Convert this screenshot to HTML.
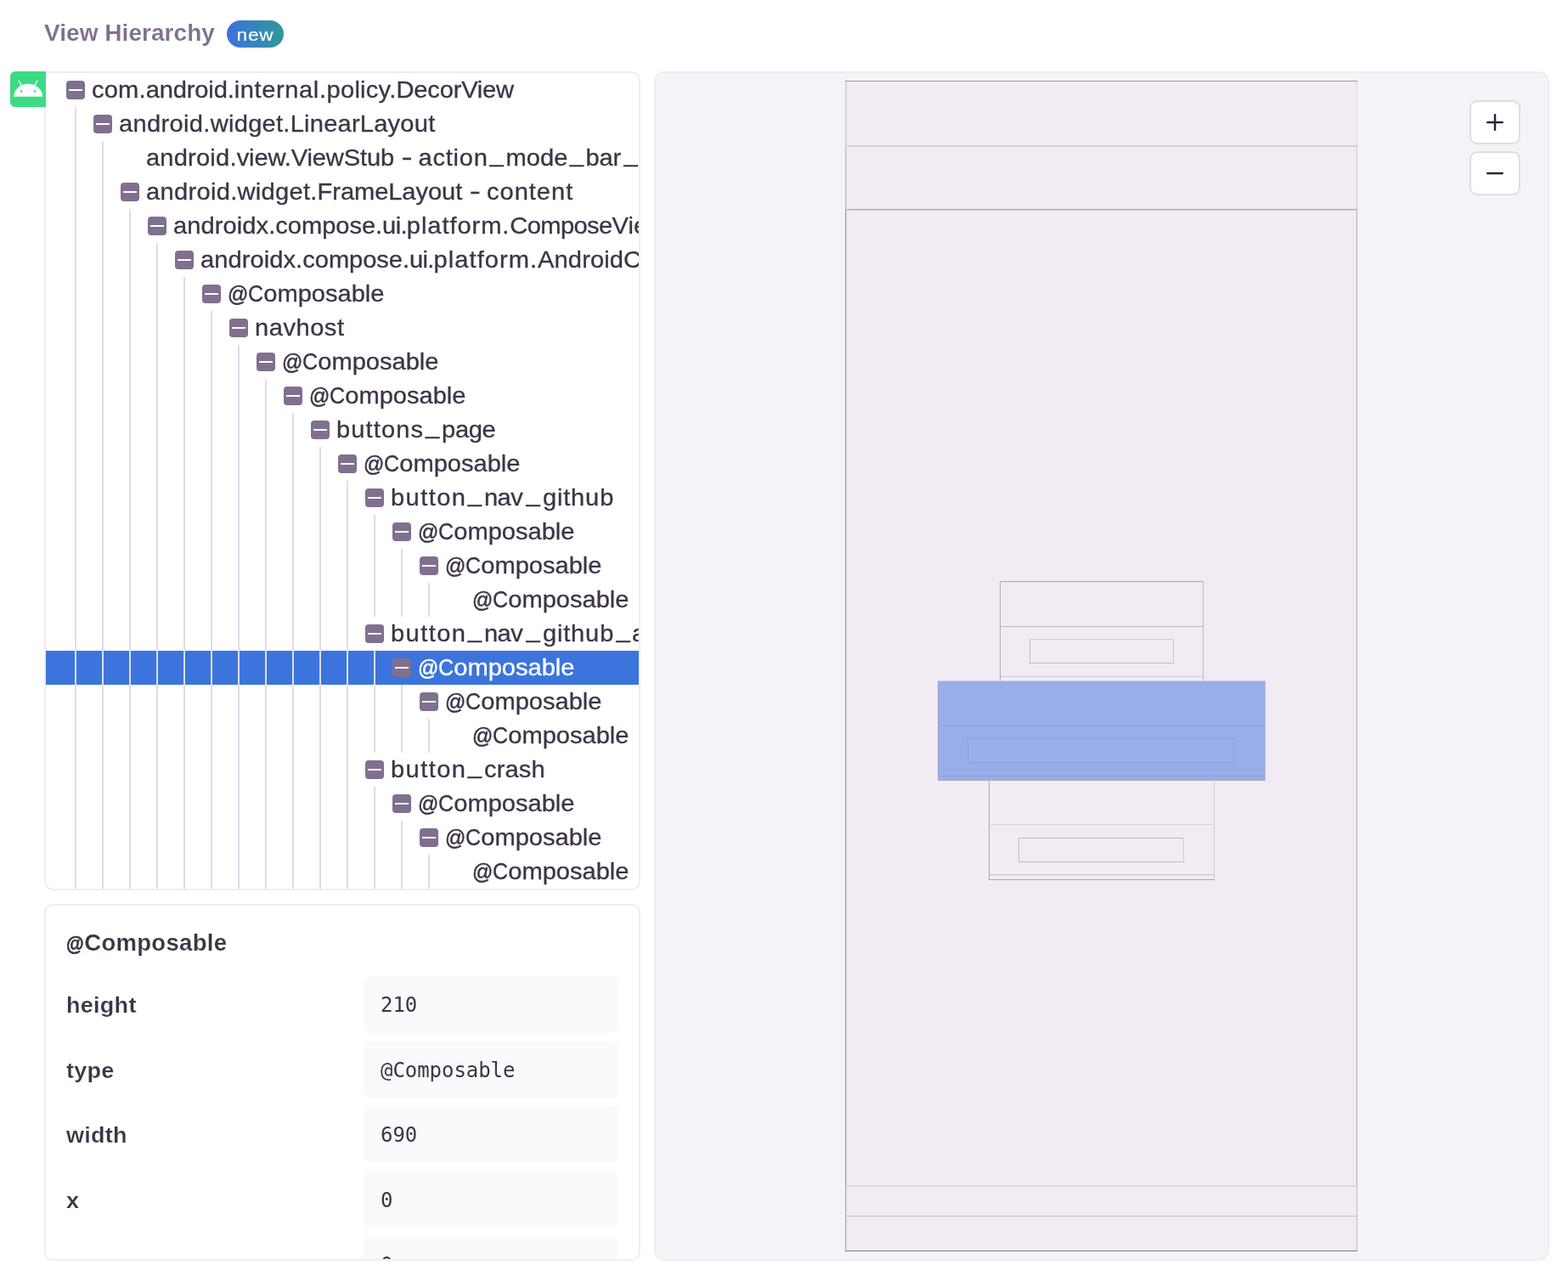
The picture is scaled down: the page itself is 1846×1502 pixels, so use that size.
<!DOCTYPE html>
<html lang="en">
<head>
<meta charset="utf-8">
<title>View Hierarchy</title>
<style>
*{box-sizing:border-box;margin:0;padding:0}
html,body{width:1846px;height:1502px;background:#fff;overflow:hidden}
body{position:relative;font-family:"Liberation Sans",sans-serif;color:#3e3446}
.title{will-change:transform;position:absolute;left:52px;top:21px;height:36px;line-height:36px;font-size:28px;font-weight:700;color:#80708f;white-space:nowrap;-webkit-text-stroke:0.12px #fff;letter-spacing:0.05px}
.badge{position:absolute;left:267px;top:24px;width:67px;height:32px;border-radius:16px;background:linear-gradient(90deg,#3f71de,#2d9996);color:#fff;font-size:21px;line-height:32px;text-align:center}
.badge span{will-change:transform;display:block;position:relative;top:1px;left:0px;transform:scaleX(1.08);letter-spacing:0.7px;-webkit-text-stroke:0.15px #fff}
.android{z-index:2;position:absolute;left:12px;top:84px;width:42px;height:42px;background:#3ddc84;border-radius:6px 0 0 6px;overflow:hidden}
.android svg{position:absolute;left:0;top:0}
.tree{position:absolute;left:52px;top:84px;width:702px;height:964px;border:2px solid #f0ecf3;border-radius:0 10px 10px 10px;overflow:hidden;background:#fff}
.row{position:absolute;left:0;width:698px;height:40px;overflow:hidden}
.row.sel{background:#3c74dd;color:#fff}
.g{position:absolute;top:0;width:2px;height:40px;background:#e0dce5}
.ic{position:absolute;top:9px;width:22px;height:22px;border-radius:4px;background:#80708f}
.ic:after{content:"";position:absolute;left:3px;top:10px;width:16px;height:2px;background:#fff}
.at{font-size:25px;-webkit-text-stroke:0.55px currentColor;display:inline-block;transform:scaleX(0.92);transform-origin:0 50%}
.hy{display:inline-block;transform:translateY(-1.4px) scaleX(1.35);transform-origin:0 50%}
.cc{display:inline-block;transform:scaleX(0.86);transform-origin:0 50%}
.u{position:relative;top:-5px}
.t{will-change:transform;transform:scaleX(1.04);transform-origin:0 50%;-webkit-text-stroke:0.3px currentColor;position:absolute;top:0;height:40px;line-height:40px;font-size:28px;white-space:nowrap}
.details{position:absolute;left:52px;top:1064px;width:702px;height:420px;border:2px solid #f0ecf3;border-radius:10px;overflow:hidden;background:#fff}
.details h4{will-change:transform;position:absolute;left:24px;top:26px;line-height:36px;font-size:27.5px;font-weight:700;white-space:nowrap;-webkit-text-stroke:0.15px #fff;letter-spacing:0.3px}
.details h4 .at{font-size:23px;letter-spacing:-1.2px;-webkit-text-stroke:0.7px #3e3446}
.k{will-change:transform;transform:scaleX(1.06);transform-origin:0 50%;position:absolute;left:24px;height:66px;line-height:66px;font-size:25.5px;font-weight:700;white-space:nowrap;-webkit-text-stroke:0.2px #fff;letter-spacing:0.25px;margin-top:1px}
.v span{will-change:transform;display:block;position:relative;top:1px}
.v{position:absolute;left:374px;width:300px;height:66px;line-height:66px;border-radius:8px;background:#faf9fb;font-family:"DejaVu Sans Mono","Liberation Mono",monospace;font-size:24px;letter-spacing:-0.05px;padding-left:20px;color:#3e3446;white-space:nowrap}
.canvas{position:absolute;left:770px;top:84px;width:1054px;height:1400px;border:2px solid #f0ecf3;border-radius:12px;background:#f5f3f7;overflow:hidden}
.canvas svg{position:absolute;left:-2px;top:-2px}
.zb{position:absolute;left:958px;width:60px;height:52px;border:2px solid #e0dce5;border-radius:9px;background:#fff}
.zb svg{position:absolute;left:-2px;top:-2px}
</style>
</head>
<body>
<h3 class="title">View Hierarchy</h3>
<span class="badge"><span>new</span></span>
<div class="android"><svg width="42" height="42" viewBox="0 0 42 42"><path d="M4.1 29.8A17 15 0 0 1 38.1 29.8Z" fill="#fff"/><path d="M12.9 16.2L10.1 11M29.1 16.2L31.9 11" stroke="#fff" stroke-width="1.3" stroke-linecap="round" fill="none"/><circle cx="13.2" cy="23.6" r="1.35" fill="#3ddc84"/><circle cx="29" cy="23.6" r="1.35" fill="#3ddc84"/></svg></div>
<div class="tree">
<div class="row" style="top:0px" title="com.android.internal.policy.DecorView"><b class="ic" style="left:24px"></b><span class="t" style="left:54px"><span style="letter-spacing:0.13px">com.</span><span style="letter-spacing:-0.15px">android.</span><span style="letter-spacing:0.57px">internal.</span><span style="letter-spacing:0.21px">policy.</span><span style="letter-spacing:-0.2px">DecorView</span></span></div>
<div class="row" style="top:40px" title="android.widget.LinearLayout"><i class="g" style="left:34px"></i><b class="ic" style="left:56px"></b><span class="t" style="left:85.51px"><span style="letter-spacing:0.3px">android.</span><span style="letter-spacing:0.23px">widget.</span><span style="letter-spacing:0.19px">LinearLayout</span></span></div>
<div class="row" style="top:80px" title="android.view.ViewStub - action_mode_bar_stub"><i class="g" style="left:34px"></i><i class="g" style="left:66px"></i><span class="t" style="left:117.72px"><span style="letter-spacing:0.17px">android.</span><span style="letter-spacing:-0.14px">view.</span><span style="letter-spacing:-0.13px">ViewStub </span><span class="hy" style="letter-spacing:1.76px">-</span><span style="letter-spacing:0.73px"> action</span><span class="u" style="letter-spacing:2.67px;margin-left:1.72px">_</span><span style="letter-spacing:0.07px">mode</span><span class="u" style="letter-spacing:2.54px;margin-left:1.99px">_</span><span style="letter-spacing:-0.18px">bar</span><span class="u" style="letter-spacing:2.68px;margin-left:3.4px">_</span>stub</span></div>
<div class="row" style="top:120px" title="android.widget.FrameLayout - content"><i class="g" style="left:34px"></i><i class="g" style="left:66px"></i><b class="ic" style="left:88px"></b><span class="t" style="left:117.58px"><span style="letter-spacing:0.28px">android.</span><span style="letter-spacing:0.24px">widget.</span><span style="letter-spacing:-0.09px">FrameLayout </span><span class="hy" style="letter-spacing:1.99px">-</span><span style="letter-spacing:0.92px"> content</span></span></div>
<div class="row" style="top:160px" title="androidx.compose.ui.platform.ComposeView"><i class="g" style="left:34px"></i><i class="g" style="left:66px"></i><i class="g" style="left:98px"></i><b class="ic" style="left:120px"></b><span class="t" style="left:150.07px"><span style="letter-spacing:0.06px">androidx.</span><span style="letter-spacing:-0.06px">compose.</span><span style="letter-spacing:-0.66px">ui.</span><span style="letter-spacing:0.88px">platform.</span><span style="letter-spacing:-0.61px">Compose</span>View</span></div>
<div class="row" style="top:200px" title="androidx.compose.ui.platform.AndroidComposeView"><i class="g" style="left:34px"></i><i class="g" style="left:66px"></i><i class="g" style="left:98px"></i><i class="g" style="left:130px"></i><b class="ic" style="left:152px"></b><span class="t" style="left:181.79px"><span style="letter-spacing:0.05px">androidx.</span><span style="letter-spacing:-0.06px">compose.</span><span style="letter-spacing:-0.7px">ui.</span><span style="letter-spacing:0.98px">platform.</span><span style="letter-spacing:0.08px">Android</span>ComposeView</span></div>
<div class="row" style="top:240px" title="@Composable"><i class="g" style="left:34px"></i><i class="g" style="left:66px"></i><i class="g" style="left:98px"></i><i class="g" style="left:130px"></i><i class="g" style="left:162px"></i><b class="ic" style="left:184px"></b><span class="t" style="left:214.28px"><span class="at" style="letter-spacing:-2.29px">@</span><span class="cc" style="letter-spacing:-2.59px">C</span><span style="letter-spacing:-0.05px">omposable</span></span></div>
<div class="row" style="top:280px" title="navhost"><i class="g" style="left:34px"></i><i class="g" style="left:66px"></i><i class="g" style="left:98px"></i><i class="g" style="left:130px"></i><i class="g" style="left:162px"></i><i class="g" style="left:194px"></i><b class="ic" style="left:216px"></b><span class="t" style="left:246.24px"><span style="letter-spacing:0.48px">navhost</span></span></div>
<div class="row" style="top:320px" title="@Composable"><i class="g" style="left:34px"></i><i class="g" style="left:66px"></i><i class="g" style="left:98px"></i><i class="g" style="left:130px"></i><i class="g" style="left:162px"></i><i class="g" style="left:194px"></i><i class="g" style="left:226px"></i><b class="ic" style="left:248px"></b><span class="t" style="left:278.28px"><span class="at" style="letter-spacing:-2.29px">@</span><span class="cc" style="letter-spacing:-2.59px">C</span><span style="letter-spacing:-0.05px">omposable</span></span></div>
<div class="row" style="top:360px" title="@Composable"><i class="g" style="left:34px"></i><i class="g" style="left:66px"></i><i class="g" style="left:98px"></i><i class="g" style="left:130px"></i><i class="g" style="left:162px"></i><i class="g" style="left:194px"></i><i class="g" style="left:226px"></i><i class="g" style="left:258px"></i><b class="ic" style="left:280px"></b><span class="t" style="left:310.28px"><span class="at" style="letter-spacing:-2.29px">@</span><span class="cc" style="letter-spacing:-2.59px">C</span><span style="letter-spacing:-0.05px">omposable</span></span></div>
<div class="row" style="top:400px" title="buttons_page"><i class="g" style="left:34px"></i><i class="g" style="left:66px"></i><i class="g" style="left:98px"></i><i class="g" style="left:130px"></i><i class="g" style="left:162px"></i><i class="g" style="left:194px"></i><i class="g" style="left:226px"></i><i class="g" style="left:258px"></i><i class="g" style="left:290px"></i><b class="ic" style="left:312px"></b><span class="t" style="left:342.44px"><span style="letter-spacing:1.05px">buttons</span><span class="u" style="letter-spacing:2.79px;margin-left:1.75px">_</span><span style="letter-spacing:-0.37px">page</span></span></div>
<div class="row" style="top:440px" title="@Composable"><i class="g" style="left:34px"></i><i class="g" style="left:66px"></i><i class="g" style="left:98px"></i><i class="g" style="left:130px"></i><i class="g" style="left:162px"></i><i class="g" style="left:194px"></i><i class="g" style="left:226px"></i><i class="g" style="left:258px"></i><i class="g" style="left:290px"></i><i class="g" style="left:322px"></i><b class="ic" style="left:344px"></b><span class="t" style="left:374.28px"><span class="at" style="letter-spacing:-2.29px">@</span><span class="cc" style="letter-spacing:-2.59px">C</span><span style="letter-spacing:-0.05px">omposable</span></span></div>
<div class="row" style="top:480px" title="button_nav_github"><i class="g" style="left:34px"></i><i class="g" style="left:66px"></i><i class="g" style="left:98px"></i><i class="g" style="left:130px"></i><i class="g" style="left:162px"></i><i class="g" style="left:194px"></i><i class="g" style="left:226px"></i><i class="g" style="left:258px"></i><i class="g" style="left:290px"></i><i class="g" style="left:322px"></i><i class="g" style="left:354px"></i><b class="ic" style="left:376px"></b><span class="t" style="left:406.25px"><span style="letter-spacing:1.36px">button</span><span class="u" style="letter-spacing:2.95px;margin-left:1.19px">_</span><span style="letter-spacing:-0.52px">nav</span><span class="u" style="letter-spacing:3.01px;margin-left:4.13px">_</span><span style="letter-spacing:0.78px">github</span></span></div>
<div class="row" style="top:520px" title="@Composable"><i class="g" style="left:34px"></i><i class="g" style="left:66px"></i><i class="g" style="left:98px"></i><i class="g" style="left:130px"></i><i class="g" style="left:162px"></i><i class="g" style="left:194px"></i><i class="g" style="left:226px"></i><i class="g" style="left:258px"></i><i class="g" style="left:290px"></i><i class="g" style="left:322px"></i><i class="g" style="left:354px"></i><i class="g" style="left:386px"></i><b class="ic" style="left:408px"></b><span class="t" style="left:438.28px"><span class="at" style="letter-spacing:-2.29px">@</span><span class="cc" style="letter-spacing:-2.59px">C</span><span style="letter-spacing:-0.05px">omposable</span></span></div>
<div class="row" style="top:560px" title="@Composable"><i class="g" style="left:34px"></i><i class="g" style="left:66px"></i><i class="g" style="left:98px"></i><i class="g" style="left:130px"></i><i class="g" style="left:162px"></i><i class="g" style="left:194px"></i><i class="g" style="left:226px"></i><i class="g" style="left:258px"></i><i class="g" style="left:290px"></i><i class="g" style="left:322px"></i><i class="g" style="left:354px"></i><i class="g" style="left:386px"></i><i class="g" style="left:418px"></i><b class="ic" style="left:440px"></b><span class="t" style="left:470.28px"><span class="at" style="letter-spacing:-2.29px">@</span><span class="cc" style="letter-spacing:-2.59px">C</span><span style="letter-spacing:-0.05px">omposable</span></span></div>
<div class="row" style="top:600px" title="@Composable"><i class="g" style="left:34px"></i><i class="g" style="left:66px"></i><i class="g" style="left:98px"></i><i class="g" style="left:130px"></i><i class="g" style="left:162px"></i><i class="g" style="left:194px"></i><i class="g" style="left:226px"></i><i class="g" style="left:258px"></i><i class="g" style="left:290px"></i><i class="g" style="left:322px"></i><i class="g" style="left:354px"></i><i class="g" style="left:386px"></i><i class="g" style="left:418px"></i><i class="g" style="left:450px"></i><span class="t" style="left:502.28px"><span class="at" style="letter-spacing:-2.29px">@</span><span class="cc" style="letter-spacing:-2.59px">C</span><span style="letter-spacing:-0.05px">omposable</span></span></div>
<div class="row" style="top:640px" title="button_nav_github_activity"><i class="g" style="left:34px"></i><i class="g" style="left:66px"></i><i class="g" style="left:98px"></i><i class="g" style="left:130px"></i><i class="g" style="left:162px"></i><i class="g" style="left:194px"></i><i class="g" style="left:226px"></i><i class="g" style="left:258px"></i><i class="g" style="left:290px"></i><i class="g" style="left:322px"></i><i class="g" style="left:354px"></i><b class="ic" style="left:376px"></b><span class="t" style="left:406.25px"><span style="letter-spacing:1.36px">button</span><span class="u" style="letter-spacing:2.95px;margin-left:1.19px">_</span><span style="letter-spacing:-0.52px">nav</span><span class="u" style="letter-spacing:3.01px;margin-left:4.13px">_</span><span style="letter-spacing:0.78px">github</span><span class="u" style="letter-spacing:2.19px;margin-left:2.19px">_</span>activity</span></div>
<div class="row sel" style="top:680px" title="@Composable"><i class="g" style="left:34px"></i><i class="g" style="left:66px"></i><i class="g" style="left:98px"></i><i class="g" style="left:130px"></i><i class="g" style="left:162px"></i><i class="g" style="left:194px"></i><i class="g" style="left:226px"></i><i class="g" style="left:258px"></i><i class="g" style="left:290px"></i><i class="g" style="left:322px"></i><i class="g" style="left:354px"></i><i class="g" style="left:386px"></i><b class="ic" style="left:408px"></b><span class="t" style="left:438.28px"><span class="at" style="letter-spacing:-2.29px">@</span><span class="cc" style="letter-spacing:-2.59px">C</span><span style="letter-spacing:-0.05px">omposable</span></span></div>
<div class="row" style="top:720px" title="@Composable"><i class="g" style="left:34px"></i><i class="g" style="left:66px"></i><i class="g" style="left:98px"></i><i class="g" style="left:130px"></i><i class="g" style="left:162px"></i><i class="g" style="left:194px"></i><i class="g" style="left:226px"></i><i class="g" style="left:258px"></i><i class="g" style="left:290px"></i><i class="g" style="left:322px"></i><i class="g" style="left:354px"></i><i class="g" style="left:386px"></i><i class="g" style="left:418px"></i><b class="ic" style="left:440px"></b><span class="t" style="left:470.28px"><span class="at" style="letter-spacing:-2.29px">@</span><span class="cc" style="letter-spacing:-2.59px">C</span><span style="letter-spacing:-0.05px">omposable</span></span></div>
<div class="row" style="top:760px" title="@Composable"><i class="g" style="left:34px"></i><i class="g" style="left:66px"></i><i class="g" style="left:98px"></i><i class="g" style="left:130px"></i><i class="g" style="left:162px"></i><i class="g" style="left:194px"></i><i class="g" style="left:226px"></i><i class="g" style="left:258px"></i><i class="g" style="left:290px"></i><i class="g" style="left:322px"></i><i class="g" style="left:354px"></i><i class="g" style="left:386px"></i><i class="g" style="left:418px"></i><i class="g" style="left:450px"></i><span class="t" style="left:502.28px"><span class="at" style="letter-spacing:-2.29px">@</span><span class="cc" style="letter-spacing:-2.59px">C</span><span style="letter-spacing:-0.05px">omposable</span></span></div>
<div class="row" style="top:800px" title="button_crash"><i class="g" style="left:34px"></i><i class="g" style="left:66px"></i><i class="g" style="left:98px"></i><i class="g" style="left:130px"></i><i class="g" style="left:162px"></i><i class="g" style="left:194px"></i><i class="g" style="left:226px"></i><i class="g" style="left:258px"></i><i class="g" style="left:290px"></i><i class="g" style="left:322px"></i><i class="g" style="left:354px"></i><b class="ic" style="left:376px"></b><span class="t" style="left:406.18px"><span style="letter-spacing:1.36px">button</span><span class="u" style="letter-spacing:2.99px;margin-left:1.26px">_</span><span style="letter-spacing:0.09px">crash</span></span></div>
<div class="row" style="top:840px" title="@Composable"><i class="g" style="left:34px"></i><i class="g" style="left:66px"></i><i class="g" style="left:98px"></i><i class="g" style="left:130px"></i><i class="g" style="left:162px"></i><i class="g" style="left:194px"></i><i class="g" style="left:226px"></i><i class="g" style="left:258px"></i><i class="g" style="left:290px"></i><i class="g" style="left:322px"></i><i class="g" style="left:354px"></i><i class="g" style="left:386px"></i><b class="ic" style="left:408px"></b><span class="t" style="left:438.28px"><span class="at" style="letter-spacing:-2.29px">@</span><span class="cc" style="letter-spacing:-2.59px">C</span><span style="letter-spacing:-0.05px">omposable</span></span></div>
<div class="row" style="top:880px" title="@Composable"><i class="g" style="left:34px"></i><i class="g" style="left:66px"></i><i class="g" style="left:98px"></i><i class="g" style="left:130px"></i><i class="g" style="left:162px"></i><i class="g" style="left:194px"></i><i class="g" style="left:226px"></i><i class="g" style="left:258px"></i><i class="g" style="left:290px"></i><i class="g" style="left:322px"></i><i class="g" style="left:354px"></i><i class="g" style="left:386px"></i><i class="g" style="left:418px"></i><b class="ic" style="left:440px"></b><span class="t" style="left:470.28px"><span class="at" style="letter-spacing:-2.29px">@</span><span class="cc" style="letter-spacing:-2.59px">C</span><span style="letter-spacing:-0.05px">omposable</span></span></div>
<div class="row" style="top:920px" title="@Composable"><i class="g" style="left:34px"></i><i class="g" style="left:66px"></i><i class="g" style="left:98px"></i><i class="g" style="left:130px"></i><i class="g" style="left:162px"></i><i class="g" style="left:194px"></i><i class="g" style="left:226px"></i><i class="g" style="left:258px"></i><i class="g" style="left:290px"></i><i class="g" style="left:322px"></i><i class="g" style="left:354px"></i><i class="g" style="left:386px"></i><i class="g" style="left:418px"></i><i class="g" style="left:450px"></i><span class="t" style="left:502.28px"><span class="at" style="letter-spacing:-2.29px">@</span><span class="cc" style="letter-spacing:-2.59px">C</span><span style="letter-spacing:-0.05px">omposable</span></span></div>
</div>
<div class="details">
<h4><span class="at">@</span>Composable</h4>
<div class="k" style="top:83px">height</div><div class="v" style="top:83px;height:67px"><span>210</span></div>
<div class="k" style="top:160px">type</div><div class="v" style="top:160px"><span>@Composable</span></div>
<div class="k" style="top:236px">width</div><div class="v" style="top:236px;height:67px"><span>690</span></div>
<div class="k" style="top:313px">x</div><div class="v" style="top:313px"><span>0</span></div>
<div class="k" style="top:389px">y</div><div class="v" style="top:389px;height:67px"><span>0</span></div>
</div>
<div class="canvas">
<svg width="1054" height="1400" viewBox="770 84 1054 1400" shape-rendering="crispEdges">
<rect x="996" y="96" width="601" height="1376" fill="#f1ecf3"/>
<rect x="995" y="96" width="1" height="75" fill="#80708f" fill-opacity="0.28"/><rect x="996" y="96" width="1" height="75" fill="#80708f" fill-opacity="0.16"/><rect x="1597" y="96" width="1" height="75" fill="#80708f" fill-opacity="0.2"/>
<rect x="995" y="171" width="1" height="75" fill="#80708f" fill-opacity="0.43"/><rect x="996" y="171" width="1" height="75" fill="#80708f" fill-opacity="0.13"/><rect x="1597" y="171" width="1" height="75" fill="#80708f" fill-opacity="0.32"/>
<rect x="995" y="246" width="1" height="1149" fill="#80708f" fill-opacity="0.75"/><rect x="996" y="246" width="1" height="1149" fill="#80708f" fill-opacity="0.16"/><rect x="1597" y="246" width="1" height="1149" fill="#80708f" fill-opacity="0.58"/>
<rect x="995" y="1395" width="1" height="77" fill="#80708f" fill-opacity="0.57"/><rect x="996" y="1395" width="1" height="77" fill="#80708f" fill-opacity="0.16"/><rect x="1597" y="1395" width="1" height="77" fill="#80708f" fill-opacity="0.45"/>
<rect x="995" y="95" width="603" height="1" fill="#80708f" fill-opacity="0.75"/><rect x="995" y="1472" width="603" height="1" fill="#80708f" fill-opacity="0.97"/>
<rect x="997" y="171" width="600" height="1" fill="#80708f" fill-opacity="0.27"/><rect x="997" y="172" width="600" height="1" fill="#80708f" fill-opacity="0.2"/><rect x="997" y="246" width="600" height="1" fill="#80708f" fill-opacity="0.6"/><rect x="997" y="247" width="600" height="1" fill="#80708f" fill-opacity="0.2"/>
<rect x="997" y="1395" width="600" height="1" fill="#80708f" fill-opacity="0.14"/><rect x="997" y="1396" width="600" height="1" fill="#80708f" fill-opacity="0.18"/><rect x="997" y="1431" width="600" height="1" fill="#80708f" fill-opacity="0.42"/>
<rect x="1177" y="684" width="1" height="117" fill="#80708f" fill-opacity="0.57"/><rect x="1416" y="684" width="1" height="117" fill="#80708f" fill-opacity="0.45"/><rect x="1178" y="684" width="238" height="1" fill="#80708f" fill-opacity="0.58"/><rect x="1178" y="737" width="238" height="1" fill="#80708f" fill-opacity="0.45"/><rect x="1178" y="796" width="238" height="1" fill="#80708f" fill-opacity="0.32"/>
<rect x="1212" y="752" width="1" height="29" fill="#80708f" fill-opacity="0.41"/><rect x="1381" y="752" width="1" height="29" fill="#80708f" fill-opacity="0.35"/><rect x="1213" y="752" width="168" height="1" fill="#80708f" fill-opacity="0.24"/><rect x="1213" y="780" width="168" height="1" fill="#80708f" fill-opacity="0.42"/>
<rect x="1164" y="919" width="1" height="117" fill="#80708f" fill-opacity="0.58"/><rect x="1429" y="919" width="1" height="117" fill="#80708f" fill-opacity="0.3"/><rect x="1165" y="1035" width="264" height="1" fill="#80708f" fill-opacity="0.6"/><rect x="1165" y="970" width="264" height="1" fill="#80708f" fill-opacity="0.2"/><rect x="1165" y="1029" width="264" height="1" fill="#80708f" fill-opacity="0.3"/><rect x="1165" y="1030" width="264" height="1" fill="#80708f" fill-opacity="0.1"/>
<rect x="1199" y="986" width="1" height="29" fill="#80708f" fill-opacity="0.41"/><rect x="1393" y="986" width="1" height="29" fill="#80708f" fill-opacity="0.3"/><rect x="1200" y="986" width="193" height="1" fill="#80708f" fill-opacity="0.42"/><rect x="1200" y="1014" width="193" height="1" fill="#80708f" fill-opacity="0.42"/>
<rect x="1104.3" y="801.5" width="385.1" height="116.9" fill="#98aee8" shape-rendering="auto"/>
<rect x="1104" y="802" width="1" height="116" fill="#80708f" fill-opacity="0.35"/><rect x="1104" y="918" width="386" height="1" fill="#80708f" fill-opacity="0.45"/><rect x="1489" y="802" width="1" height="116" fill="#80708f" fill-opacity="0.2"/>
<rect x="1105" y="854" width="384" height="1" fill="#8398d6" fill-opacity="0.6"/><rect x="1105" y="913" width="384" height="1" fill="#8398d6" fill-opacity="0.6"/><rect x="1139" y="869" width="1" height="29" fill="#8398d6" fill-opacity="0.6"/><rect x="1453" y="869" width="1" height="29" fill="#8398d6" fill-opacity="0.4"/><rect x="1140" y="869" width="313" height="1" fill="#8398d6" fill-opacity="0.6"/><rect x="1140" y="897" width="313" height="1" fill="#8398d6" fill-opacity="0.6"/>
</svg>
<div class="zb" style="top:32px"><svg width="60" height="52"><path d="M21.3 26H38.7M30 17.3V34.7" stroke="#2b2233" stroke-width="2.5" stroke-linecap="round" fill="none"/></svg></div>
<div class="zb" style="top:92px"><svg width="60" height="52"><path d="M21.3 26H38.7" stroke="#2b2233" stroke-width="2.5" stroke-linecap="round" fill="none"/></svg></div>
</div>
</body>
</html>
